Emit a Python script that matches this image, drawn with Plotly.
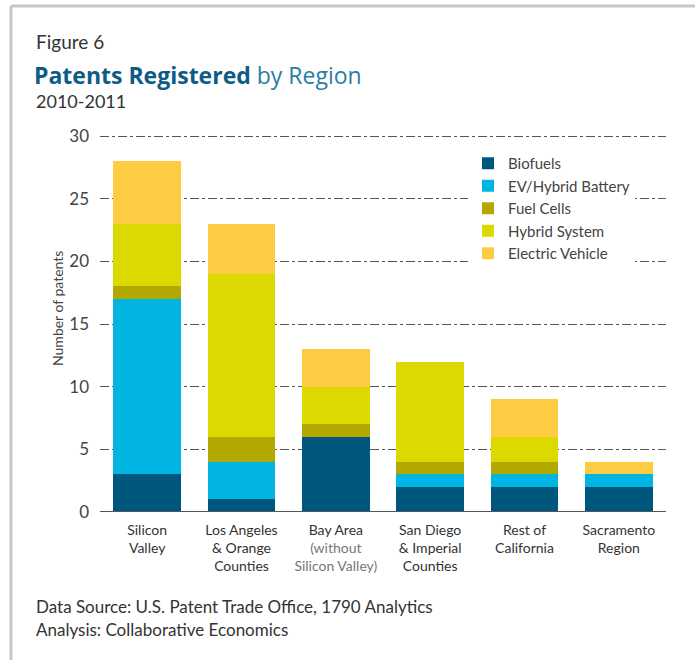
import plotly.graph_objects as go

regions = [
    "Silicon<br>Valley",
    "Los Angeles<br>& Orange<br>Counties",
    "Bay Area<br><span style='color:#777'>(without</span><br><span style='color:#777'>Silicon Valley)</span>",
    "San Diego<br>& Imperial<br>Counties",
    "Rest of<br>California",
    "Sacramento<br>Region",
]
biofuels = [3, 1, 6, 2, 2, 2]
ev_battery = [14, 3, 0, 1, 1, 1]
fuel_cells = [1, 2, 1, 1, 1, 0]
hybrid_system = [5, 13, 3, 8, 2, 0]
electric_vehicle = [5, 4, 3, 0, 3, 1]
y_ticks = [0, 5, 10, 15, 20, 25, 30]

series = [
    ("Biofuels", biofuels, "#00577d"),
    ("EV/Hybrid Battery", ev_battery, "#00b5e2"),
    ("Fuel Cells", fuel_cells, "#b3a800"),
    ("Hybrid System", hybrid_system, "#dbd900"),
    ("Electric Vehicle", electric_vehicle, "#fecb43"),
]

W, H = 695, 660
L, R, T, B = 100, 666, 132, 512
Y30 = 136  # pixel of the 30 tick
ymax = 30 * (B - T) / (B - Y30)

def px(x):
    return (x - L) / (R - L)

def py(y):
    return (B - y) / (B - T)

fig = go.Figure()
xs = list(range(len(regions)))
for name, vals, col in series:
    fig.add_trace(go.Bar(x=xs, y=vals, name=name, marker=dict(color=col, line=dict(width=0))))

font = "Lato, 'Open Sans', sans-serif"
fig.update_layout(
    width=W, height=H,
    margin=dict(l=L, r=W - R, t=T, b=H - B),
    barmode="stack", bargap=0.28,
    plot_bgcolor="white", paper_bgcolor="white",
    font=dict(family=font, color="#333"),
    showlegend=True,
    legend=dict(
        x=px(468), y=py(147), xanchor="left", yanchor="top",
        traceorder="normal", bgcolor="white",
        font=dict(size=15, color="#444"),
        tracegroupgap=0,
    ),
    xaxis=dict(
        tickmode="array", tickvals=xs, ticktext=regions,
        range=[-0.5, 5.5], showgrid=False, zeroline=False,
        tickfont=dict(size=14, color="#333"), ticks="", showline=False,
        ticklabelstandoff=8,
    ),
    yaxis=dict(
        range=[0, ymax], tickvals=y_ticks,
        showgrid=True, gridcolor="#555", griddash="dashdot", gridwidth=1,
        zeroline=False, showline=False,
        tickfont=dict(size=17, color="#444"), ticks="", ticklabelstandoff=10,
    ),
)

# baseline
fig.add_shape(type="line", xref="paper", yref="y", x0=0, x1=1, y0=0, y1=0,
              line=dict(color="#555", width=2), layer="above")

# frame
fig.add_shape(type="line", xref="paper", yref="paper", x0=px(11), x1=px(700), y0=py(6), y1=py(6),
              line=dict(color="#c8c8cc", width=3))
fig.add_shape(type="line", xref="paper", yref="paper", x0=px(11), x1=px(11), y0=py(6), y1=py(665),
              line=dict(color="#c8c8cc", width=3))

def ann(text, x, y, size, color="#333", family=font, angle=0, xanchor="left"):
    fig.add_annotation(text=text, xref="paper", yref="paper", x=px(x), y=py(y),
                       xanchor=xanchor, yanchor="middle", showarrow=False, textangle=angle,
                       font=dict(size=size, color=color, family=family))

ann("Figure 6", 34, 41, 19, "#333")
ann("<b>Patents Registered</b><span style='color:#2b7da3'> by Region</span>", 32, 75, 23,
    "#0d5c85", family="'Open Sans', sans-serif")
ann("2010-2011", 34, 101, 18, "#333")
ann("Number of patents", 57, 309, 14, "#444", angle=-90, xanchor="center")
ann("Data Source: U.S. Patent Trade Office, 1790 Analytics", 34, 606, 17, "#333")
ann("Analysis: Collaborative Economics", 34, 629, 17, "#333")

fig.write_html("out.html", config={"displayModeBar": False},
               post_script="document.body.style.margin='0px';")
